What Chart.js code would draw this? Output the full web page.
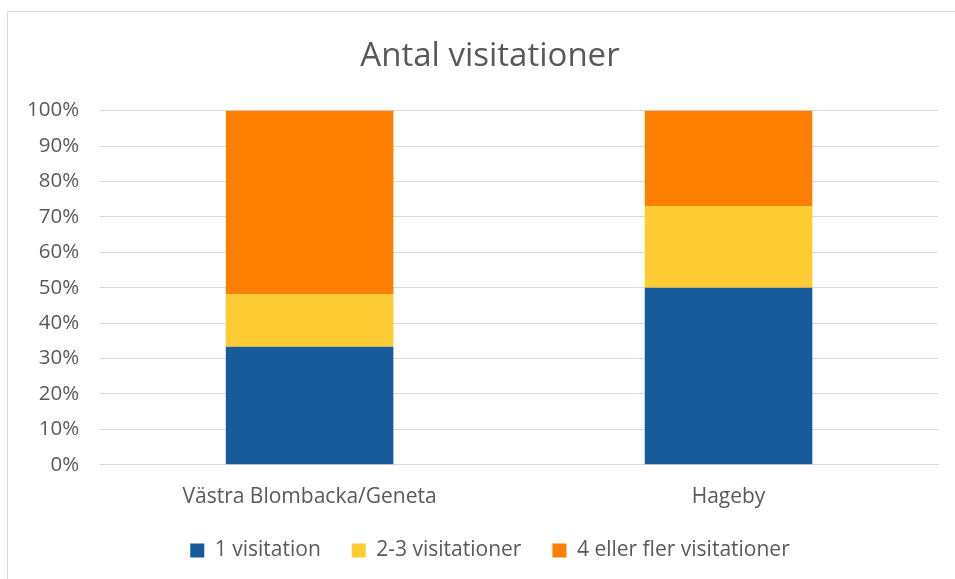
<!DOCTYPE html>
<html>
<head>
<meta charset="utf-8">
<script src="https://cdn.jsdelivr.net/npm/chart.js@4"></script>
<style>
  html, body { margin: 0; padding: 0; background: #fff; overflow: hidden; }
  #wrap { position: absolute; left: 7px; top: 11px; width: 948px; height: 568px; border-left: 1px solid #d9d9d9; border-top: 1px solid #d9d9d9; box-sizing: border-box; }
  canvas { display: block; }
</style>
</head>
<body>
<div id="wrap"><canvas id="chart"></canvas></div>
<script>
const categories = ['Västra Blombacka/Geneta', 'Hageby'];
const oneVisit = [33.3, 50.0];
const twoThreeVisits = [14.8, 23.1];
const fourPlusVisits = [51.9, 26.9];
const yTicks = [0, 10, 20, 30, 40, 50, 60, 70, 80, 90, 100];

const grey = '#595959';
const fontFamily = "'Open Sans', 'Noto Sans', sans-serif";

// legend sits closer to the axis labels than chart.js puts it,
// and title + legend are centred on the whole frame, not the padded box
const legendTrimBy = 12;
const legendLift = 13;
const centreShift = 18;
const legendTrim = {
    id: 'legendTrim',
    afterInit(chart) {
        const legend = chart.legend;
        const fit = legend.fit;
        legend.fit = function () {
            fit.call(this);
            this.height -= legendTrimBy;
        };
    },
    afterLayout(chart) {
        const legend = chart.legend;
        legend.top -= legendLift;
        legend.bottom -= legendLift;
        legend.left += centreShift;
        legend.right += centreShift;
        const title = chart.titleBlock;
        title.left += centreShift;
        title.right += centreShift;
    }
};

const ctx = document.getElementById('chart').getContext('2d');
new Chart(ctx, {
    type: 'bar',
    data: {
        labels: categories,
        datasets: [
            { label: '1 visitation', data: oneVisit, backgroundColor: '#185B9B' },
            { label: '2-3 visitationer', data: twoThreeVisits, backgroundColor: '#FFCB33' },
            { label: '4 eller fler visitationer', data: fourPlusVisits, backgroundColor: '#FF7F00' }
        ]
    },
    options: {
        responsive: true,
        maintainAspectRatio: false,
        animation: false,
        datasets: { bar: { barPercentage: 0.4, categoryPercentage: 1.0 } },
        layout: { padding: { left: -2, right: 17, top: 0, bottom: 7 } },
        scales: {
            x: {
                stacked: true,
                grid: { display: false },
                border: { color: '#d9d9d9' },
                ticks: { color: grey, font: { family: fontFamily, size: 21 }, padding: 12 }
            },
            y: {
                stacked: true,
                min: 0,
                max: 100,
                afterBuildTicks: axis => { axis.ticks = yTicks.map(v => ({ value: v })); },
                grid: { color: '#d9d9d9', drawTicks: false },
                border: { display: false },
                ticks: {
                    color: grey,
                    font: { family: fontFamily, size: 20.5 },
                    padding: 21,
                    callback: v => v + '%'
                }
            }
        },
        plugins: {
            title: {
                display: true,
                text: 'Antal visitationer',
                color: grey,
                font: { family: fontFamily, size: 33, weight: 'normal' },
                padding: { top: 25, bottom: 34 }
            },
            legend: {
                position: 'bottom',
                labels: {
                    color: grey,
                    font: { family: fontFamily, size: 21 },
                    boxWidth: 14,
                    boxHeight: 14,
                    padding: 31
                }
            },
            tooltip: { enabled: false }
        }
    },
    plugins: [legendTrim]
});
</script>
</body>
</html>
